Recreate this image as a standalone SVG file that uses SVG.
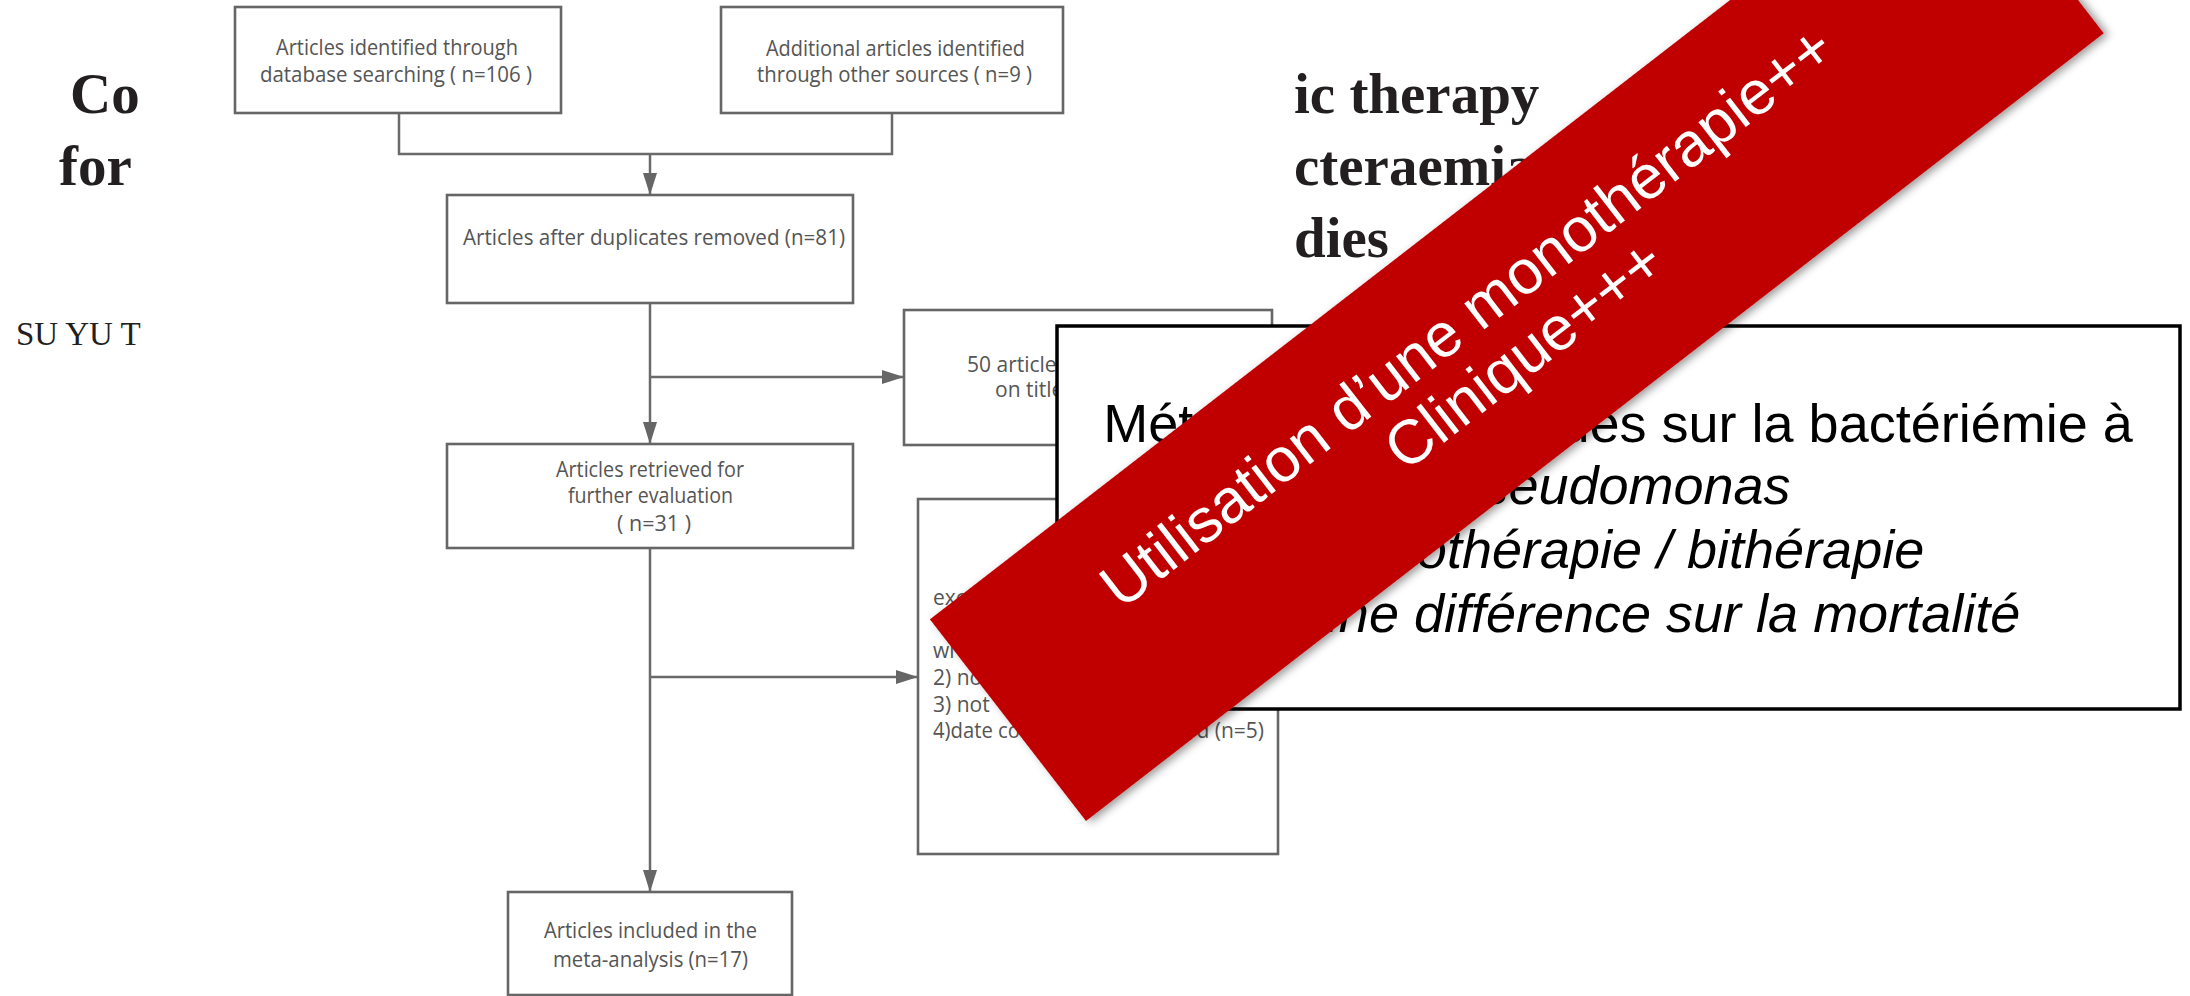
<svg xmlns="http://www.w3.org/2000/svg" width="2190" height="996" viewBox="0 0 2190 996">
<defs>
<style>
.fc-box{fill:#fff;stroke:#666;stroke-width:2.6}
.fc-t{font-family:'Open Sans','Liberation Sans',sans-serif;font-size:21px;fill:#555}
.conn{stroke:#6a6a6a;stroke-width:2.5;fill:none}
.title{font-family:'Liberation Serif','Times New Roman',serif;font-weight:bold;font-size:57px;fill:#231f20}
.author{font-family:'Liberation Serif','Times New Roman',serif;font-size:33px;fill:#231f20}
.ov{font-family:'Liberation Sans',Arial,sans-serif;font-size:54px;fill:#000;text-anchor:middle}
.bn{font-family:'Liberation Sans',Arial,sans-serif;font-size:62px;fill:#fff;text-anchor:middle}
</style>
<marker id="arr" viewBox="0 0 22 14" refX="22" refY="7" markerWidth="22" markerHeight="14" markerUnits="userSpaceOnUse" orient="auto"><path d="M0,0 L22,7 L0,14 z" fill="#666"/></marker>
<filter id="sh" x="-10%" y="-10%" width="120%" height="130%"><feDropShadow dx="3" dy="4" stdDeviation="4" flood-color="#000" flood-opacity="0.4"/></filter>
</defs>
<rect width="2190" height="996" fill="#fff"/>
<g id="paper-title">
<text class="title" x="70" y="113">Co</text>
<text class="title" x="59" y="185">for</text>
<text class="author" x="16" y="345">SU YU T</text>
<text class="title" x="1294" y="113">ic therapy</text>
<text class="title" x="1294" y="185">cteraemia</text>
<text class="title" x="1294" y="257">dies</text>
</g>
<g id="connectors">
<path class="conn" d="M399,113 V154 H892 V113"/>
<path class="conn" d="M650,154 V195" marker-end="url(#arr)"/>
<path class="conn" d="M650,303 V444" marker-end="url(#arr)"/>
<path class="conn" d="M650,377 H904" marker-end="url(#arr)"/>
<path class="conn" d="M650,548 V892" marker-end="url(#arr)"/>
<path class="conn" d="M650,677 H918" marker-end="url(#arr)"/>
</g>
<g id="n-database">
<rect class="fc-box" x="235" y="7" width="326" height="106"/>
<text class="fc-t" x="276" y="55" textLength="242" lengthAdjust="spacingAndGlyphs">Articles identified through</text>
<text class="fc-t" x="260" y="82" textLength="272" lengthAdjust="spacingAndGlyphs">database searching ( n=106 )</text>
</g>
<g id="n-other">
<rect class="fc-box" x="721" y="7" width="342" height="106"/>
<text class="fc-t" x="766" y="56" textLength="259" lengthAdjust="spacingAndGlyphs">Additional articles identified</text>
<text class="fc-t" x="757" y="82" textLength="275" lengthAdjust="spacingAndGlyphs">through other sources ( n=9 )</text>
</g>
<g id="n-duplicates">
<rect class="fc-box" x="447" y="195" width="406" height="108"/>
<text class="fc-t" x="463" y="245" textLength="382" lengthAdjust="spacingAndGlyphs">Articles after duplicates removed  (n=81)</text>
</g>
<g id="n-excluded50">
<rect class="fc-box" x="904" y="310" width="368" height="135"/>
<text class="fc-t" x="967" y="372">50 articles</text>
<text class="fc-t" x="995" y="397">on title</text>
</g>
<g id="n-retrieved">
<rect class="fc-box" x="447" y="444" width="406" height="104"/>
<text class="fc-t" x="556" y="477" textLength="188" lengthAdjust="spacingAndGlyphs">Articles retrieved for</text>
<text class="fc-t" x="568" y="503" textLength="165" lengthAdjust="spacingAndGlyphs">further evaluation</text>
<text class="fc-t" x="617" y="531" textLength="74" lengthAdjust="spacingAndGlyphs">( n=31 )</text>
</g>
<g id="n-excluded14">
<rect class="fc-box" x="918" y="499" width="360" height="355"/>
<text class="fc-t" x="933" y="605">exc</text>
<text class="fc-t" x="933" y="658">wi</text>
<text class="fc-t" x="933" y="685">2) no</text>
<text class="fc-t" x="933" y="712">3) not</text>
<text class="fc-t" x="933" y="738" textLength="87" lengthAdjust="spacingAndGlyphs">4)date co</text>
<text class="fc-t" x="1264" y="738" text-anchor="end">d (n=5)</text>
</g>
<g id="n-included">
<rect class="fc-box" x="508" y="892" width="284" height="103"/>
<text class="fc-t" x="544" y="938" textLength="213" lengthAdjust="spacingAndGlyphs">Articles included in the</text>
<text class="fc-t" x="553" y="967" textLength="195" lengthAdjust="spacingAndGlyphs">meta-analysis (n=17)</text>
</g>
<g id="summary-box">
<rect x="1057" y="326" width="1123" height="383" fill="#fff" stroke="#000" stroke-width="3.5"/>
<text class="ov" x="1618" y="442">Méta-analyse d’études sur la bactériémie à</text>
<text class="ov" x="1618" y="504" font-style="italic">Pseudomonas</text>
<text class="ov" x="1618" y="568" font-style="italic">Monothérapie / bithérapie</text>
<text class="ov" x="1618" y="632" font-style="italic">Aucune différence sur la mortalité</text>
</g>
<g id="banner" transform="translate(1086,821) rotate(-37.74)">
<rect x="0" y="-255" width="1287" height="255" fill="#C00000" filter="url(#sh)"/>
<text class="bn" x="610" y="-145">Utilisation d’une monothérapie++</text>
<text class="bn" x="632" y="-80">Clinique+++</text>
</g>
</svg>
